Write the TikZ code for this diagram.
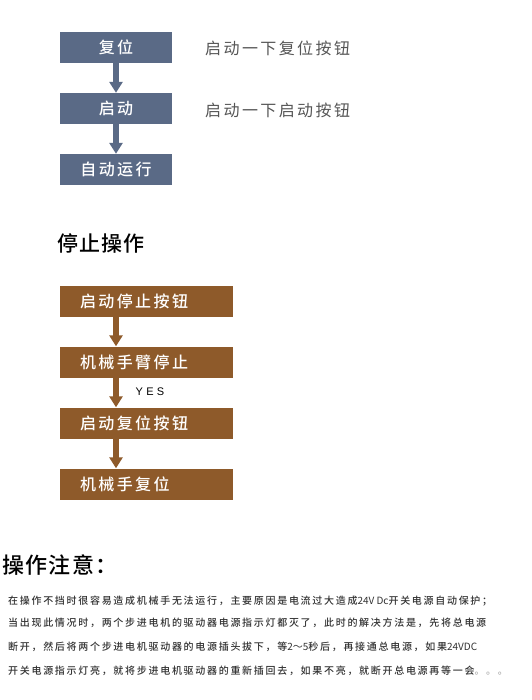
\documentclass[tikz,border=0pt]{standalone}
\usepackage{fontspec}
\setmainfont{Noto Sans CJK SC}
\newfontfamily\boxfont[LetterSpace=15]{Noto Sans CJK SC Medium}
\newfontfamily\hintfont[LetterSpace=15]{Noto Sans CJK SC}
\newfontfamily\headfont[LetterSpace=6]{Noto Sans CJK SC Medium}
\newfontfamily\notefont[LetterSpace=17]{Noto Sans CJK SC Medium}
\newfontfamily\latfont{Noto Sans CJK SC}
\newfontfamily\yesfont[LetterSpace=30]{Liberation Sans}
\newcommand{\lat}[1]{{\latfont #1}}
\usetikzlibrary{arrows.meta}
\definecolor{slate}{HTML}{5A6A86}
\definecolor{rust}{HTML}{8E5A2A}
\definecolor{tipgray}{HTML}{555555}
\definecolor{notegray}{HTML}{333333}

\begin{document}
\begin{tikzpicture}[x = 1pt, y = -1pt,
		bluebox/.style = {fill = slate, text = white, minimum width = 112pt, minimum height = 31pt, inner sep = 0pt, font = {\boxfont\fontsize{16pt}{16pt}\selectfont}},
		rustbox/.style = {fill = rust, text = white, text width = 133pt, inner xsep = 20pt, inner ysep = 0pt, minimum height = 31pt, align = left, font = {\boxfont\fontsize{16pt}{16pt}\selectfont}},
		flow/.style = {#1, line width = 6pt, -{Triangle[width = 13pt, length = 11pt]}},
		hint/.style = {anchor = west, inner sep = 0pt, text = tipgray, font = {\hintfont\fontsize{16pt}{16pt}\selectfont}},
		note/.style = {anchor = west, inner sep = 0pt, text = notegray, font = {\notefont\fontsize{10pt}{10pt}\selectfont}}]
		\fill [white] (0, 0) rectangle (531, 700);
		\useasboundingbox (0, 0) rectangle (531, 700);
		%%%%%%%%%%%%%
		\node [bluebox] (reset) at (116, 47.5) {复位};
		\node [bluebox] (start) at (116, 108.5) {启动};
		\node [bluebox] (run) at (116, 169.5) {自动运行};
		\node [hint] (hreset) at (205, 48) {启动一下复位按钮};
		\node [hint] (hstart) at (205, 110) {启动一下启动按钮};
		%%%%%%%%%%%%%
		\draw [flow = slate] (reset) to (start);
		\draw [flow = slate] (start) to (run);
		%%%%%%%%%%%%%
		\node [anchor = west, inner sep = 0pt, font = {\headfont\fontsize{21pt}{21pt}\selectfont}] (stophead) at (57, 243) {停止操作};
		\node [rustbox] (stop) at (146.5, 301.5) {启动停止按钮};
		\node [rustbox] (arm) at (146.5, 362) {机械手臂停止};
		\node [rustbox] (rst) at (146.5, 423) {启动复位按钮};
		\node [rustbox] (home) at (146.5, 484) {机械手复位};
		\node [inner sep = 0pt, font = {\yesfont\fontsize{11pt}{11pt}\selectfont}] (yes) at (150, 392) {YES};
		%%%%%%%%%%%%%
		\draw [flow = rust] ([xshift = -30.5pt] stop.south) to ([xshift = -30.5pt] arm.north);
		\draw [flow = rust] ([xshift = -30.5pt] arm.south) to ([xshift = -30.5pt] rst.north);
		\draw [flow = rust] ([xshift = -30.5pt] rst.south) to ([xshift = -30.5pt] home.north);
		%%%%%%%%%%%%%
		\node [anchor = west, inner sep = 0pt, font = {\headfont\fontsize{22pt}{22pt}\selectfont}] (notehead) at (2, 565) {操作注意：};
		\node [note] (n1) at (8, 601) {在操作不挡时很容易造成机械手无法运行，主要原因是电流过大造成\lat{24V Dc}开关电源自动保护；};
		\node [note] (n2) at (8, 623) {当出现此情况时，两个步进电机的驱动器电源指示灯都灭了，此时的解决方法是，先将总电源};
		\node [note] (n3) at (8, 647) {断开，然后将两个步进电机驱动器的电源插头拔下，等\lat{2～5}秒后，再接通总电源，如果\lat{24VDC}};
		\node [note] (n4) at (8, 671) {开关电源指示灯亮，就将步进电机驱动器的重新插回去，如果不亮，就断开总电源再等一会\textcolor{gray!70}{。。。}};
\end{tikzpicture}
\end{document}
